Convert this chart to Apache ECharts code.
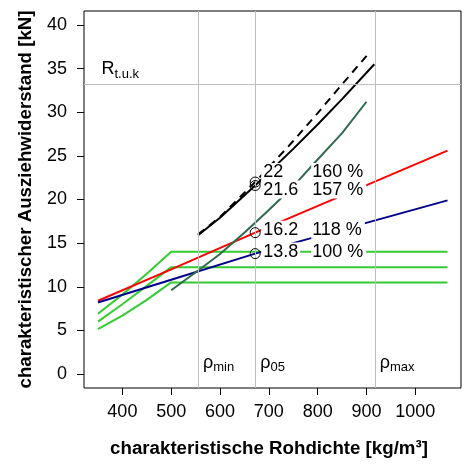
<!DOCTYPE html>
<html>
<head>
<meta charset="utf-8">
<script src="https://cdn.jsdelivr.net/npm/echarts@6/dist/echarts.min.js"></script>
<style>
html, body { margin: 0; padding: 0; background: #fff; }
#chart { width: 462px; height: 464px; }
</style>
</head>
<body>
<div id="chart"></div>
<script>
// Achsenteilung
var xTicks = [400, 500, 600, 700, 800, 900, 1000];
var yTicks = [0, 5, 10, 15, 20, 25, 30, 35, 40];

// Kurven [Rohdichte, Ausziehwiderstand]
var greenTop = [[350, 6.9], [400, 9.1], [450, 11.5], [500, 14.0], [1066, 14.0]];
var greenMid = [[350, 6.0], [400, 8.0], [450, 10.1], [500, 12.25], [1066, 12.25]];
var greenLow = [[350, 5.15], [400, 6.7], [450, 8.5], [500, 10.5], [1066, 10.5]];
var redLine = [[350, 8.4], [500, 12.0], [672, 16.2], [1066, 25.6]];
var blueLine = [[350, 8.2], [500, 10.8], [672, 13.8], [1066, 19.9]];
var darkGreenLine = [[500, 9.6], [556, 11.9], [600, 13.75], [652, 16.3], [700, 18.8], [750, 21.5], [792, 24.1], [850, 27.6], [900, 31.2]];
var blackSolid = [[555, 15.9], [600, 17.9], [672, 21.6], [750, 25.8], [800, 28.6], [850, 31.5], [916, 35.5]];
var blackDashed = [[555, 16.0], [600, 18.0], [672, 22.0], [750, 26.7], [800, 29.9], [850, 33.2], [904, 36.7]];

// Werte bei rho05
var rho05 = 672;
var pointValues = [22, 21.6, 16.2, 13.8];
var pointPercents = ['160 %', '157 %', '118 %', '100 %'];

// Hilfslinien
var densityMarks = [555, 672, 917];
var densityNames = ['min', '05', 'max'];
var rtuk = 33.2;

var font = 'Liberation Sans, Arial, Helvetica, sans-serif';
var labelShift = [-10, 4, -3, -2];

var chart = echarts.init(document.getElementById('chart'));

function lineSeries(data, color, type) {
    return {
        type: 'line',
        data: data,
        showSymbol: false,
        z: 2,
        lineStyle: {color: color, width: 2, type: type || 'solid'}
    };
}

var subRich = {
    m: {fontSize: 18, fontFamily: font, color: '#000', lineHeight: 24},
    s: {fontSize: 13, fontFamily: font, color: '#000', lineHeight: 24, verticalAlign: 'bottom', padding: [0, 0, 1, 0]}
};

var annotations = densityMarks.map(function (x, i) {
    return {value: [x, 1.3], text: '{m|ρ}{s|' + densityNames[i] + '}'};
});
annotations.push({value: [347, 34.9], text: '{m|R}{s|t.u.k}'});

var option = {
    animation: false,
    grid: {
        left: 84, right: 1, top: 11, bottom: 76,
        show: true, borderColor: '#000', borderWidth: 1
    },
    xAxis: {
        type: 'value',
        min: 321.4, max: 1093.6,
        splitLine: {show: false},
        axisLine: {show: false, onZero: false},
        axisTick: {show: true, inside: false, length: 7, customValues: xTicks, lineStyle: {color: '#000'}},
        axisLabel: {
            customValues: xTicks, margin: 15, fontSize: 18, fontFamily: font, color: '#000',
            formatter: function (v) { return String(v); }
        },
        name: 'charakteristische Rohdichte [kg/m³]',
        nameLocation: 'middle',
        nameGap: 51,
        nameTextStyle: {fontSize: 18.7, fontWeight: 'bold', fontFamily: font, color: '#000', padding: [0, 7, 0, 0]}
    },
    yAxis: {
        type: 'value',
        min: -1.6, max: 41.6,
        splitLine: {show: false},
        axisLine: {show: false, onZero: false},
        axisTick: {show: true, inside: false, length: 7, customValues: yTicks, lineStyle: {color: '#000'}},
        axisLabel: {customValues: yTicks, margin: 17, fontSize: 18, fontFamily: font, color: '#000'},
        name: 'charakteristischer Ausziehwiderstand [kN]',
        nameLocation: 'middle',
        nameGap: 49,
        nameTextStyle: {fontSize: 18.7, fontWeight: 'bold', fontFamily: font, color: '#000'}
    },
    series: [
        {
            type: 'line',
            data: [],
            z: 1,
            markLine: {
                silent: true,
                symbol: 'none',
                label: {show: false},
                lineStyle: {color: '#bebebe', width: 1, type: 'solid'},
                data: densityMarks.map(function (x) { return {xAxis: x}; }).concat([{yAxis: rtuk}])
            }
        },
        lineSeries(greenTop, '#33cc33'),
        lineSeries(greenMid, '#33cc33'),
        lineSeries(greenLow, '#33cc33'),
        lineSeries(redLine, '#ff0000'),
        lineSeries(blueLine, '#00008b'),
        lineSeries(darkGreenLine, '#2e6b4e'),
        lineSeries(blackSolid, '#000000'),
        lineSeries(blackDashed, '#000000', [8, 6]),
        {
            // Zahlenwerte
            type: 'scatter',
            z: 10,
            symbolSize: 0,
            itemStyle: {opacity: 1},
            data: pointValues.map(function (v, i) {
                return {value: [rho05, v], label: {offset: [0, labelShift[i]]}};
            }),
            label: {
                show: true, position: 'right', distance: 6, opacity: 1,
                formatter: function (p) { return String(p.value[1]); },
                fontSize: 18, fontFamily: font, color: '#000',
                backgroundColor: '#fff', padding: [0, 2, 0, 2]
            }
        },
        {
            // Prozentwerte
            type: 'scatter',
            z: 10,
            symbolSize: 0,
            itemStyle: {opacity: 1},
            data: pointValues.map(function (v, i) {
                return {value: [rho05, v], name: pointPercents[i], label: {offset: [0, labelShift[i]]}};
            }),
            label: {
                show: true, position: 'right', distance: 56, opacity: 1,
                formatter: function (p) { return p.name; },
                fontSize: 18, fontFamily: font, color: '#000',
                backgroundColor: '#fff', padding: [0, 3, 0, 1]
            }
        },
        {
            type: 'scatter',
            z: 11,
            symbol: 'circle',
            symbolSize: 10,
            itemStyle: {color: 'rgba(0,0,0,0)', borderColor: '#000', borderWidth: 1, opacity: 1},
            data: pointValues.map(function (v) { return [rho05, v]; })
        },
        {
            type: 'scatter',
            z: 10,
            symbolSize: 0,
            itemStyle: {opacity: 1},
            data: annotations.map(function (a) { return {value: a.value, name: a.text}; }),
            label: {
                show: true, position: 'right', distance: 5, opacity: 1,
                formatter: function (p) { return p.name; },
                rich: subRich
            }
        }
    ]
};

chart.setOption(option);
</script>
</body>
</html>
